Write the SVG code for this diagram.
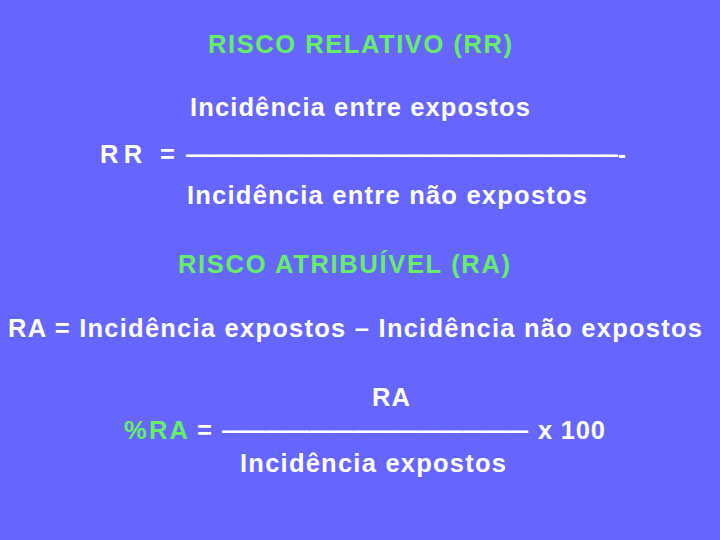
<svg xmlns="http://www.w3.org/2000/svg" width="720" height="540" viewBox="0 0 720 540">
<style>
text{font-family:"Liberation Sans",Arial,sans-serif;font-size:25.5px;font-weight:bold;fill:#ffffff}
.g{fill:#66ee66}
</style>
<rect width="720" height="540" fill="#6666ff"/>
<g id="rr">
<text class="g" x="208" y="53" textLength="304">RISCO RELATIVO (RR)</text>
<text x="190" y="116" textLength="340">Incidência entre expostos</text>
<text x="100" y="163" textLength="75">RR  =</text>
<text x="186" y="163" textLength="440" lengthAdjust="spacingAndGlyphs">——————————————————-</text>
<text x="187" y="204" textLength="400">Incidência entre não expostos</text>
</g>
<g id="ra">
<text class="g" x="178" y="273" textLength="332">RISCO ATRIBUÍVEL (RA)</text>
<text x="8" y="337" textLength="694">RA = Incidência expostos – Incidência não expostos</text>
</g>
<g id="pra">
<text x="372" y="406" textLength="38">RA</text>
<text class="g" x="124" y="439" textLength="64">%RA</text>
<text x="197" y="439">=</text>
<text x="222" y="439" textLength="306" lengthAdjust="spacingAndGlyphs">——————————————</text>
<text x="538" y="439" textLength="67">x 100</text>
<text x="240" y="472" textLength="266">Incidência expostos</text>
</g>
</svg>
